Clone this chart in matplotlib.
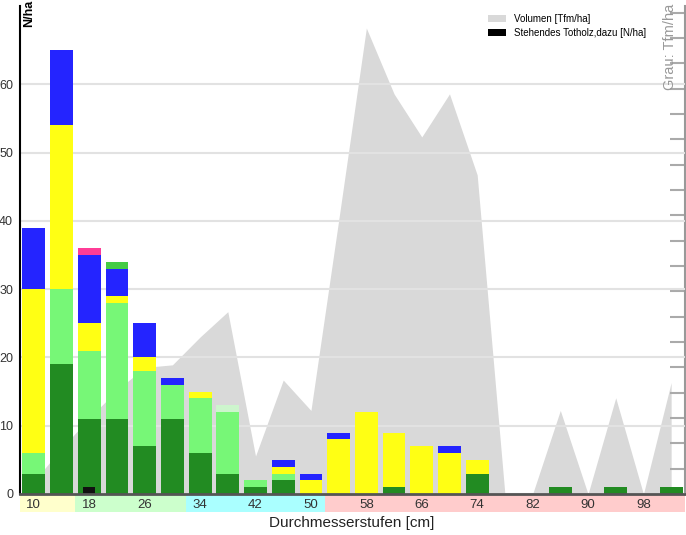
import numpy as np
import matplotlib
matplotlib.use("Agg")
import matplotlib.pyplot as plt
from matplotlib.patches import Patch, Rectangle
import matplotlib.transforms as mtransforms

plt.rcParams['font.family'] = ['Liberation Sans', 'DejaVu Sans']

# Durchmesserstufen (cm), 4 cm steps
stufen = np.arange(10, 106, 4)

# stems per ha, stacked layers (bottom -> top)
dunkelgruen = [3, 19, 11, 11, 7, 11, 6, 3, 1, 2, 0, 0, 0, 1, 0, 0, 3, 0, 0, 1, 0, 1, 0, 1]
hellgruen   = [3, 11, 10, 17, 11, 5, 8, 9, 1, 1, 0, 0, 0, 0, 0, 0, 0, 0, 0, 0, 0, 0, 0, 0]
blassgruen  = [0, 0, 0, 0, 0, 0, 0, 1, 0, 0, 0, 0, 0, 0, 0, 0, 0, 0, 0, 0, 0, 0, 0, 0]
gelb        = [24, 24, 4, 1, 2, 0, 1, 0, 0, 1, 2, 8, 12, 8, 7, 6, 2, 0, 0, 0, 0, 0, 0, 0]
blau        = [9, 11, 10, 4, 5, 1, 0, 0, 0, 1, 1, 1, 0, 0, 0, 1, 0, 0, 0, 0, 0, 0, 0, 0]
rosa        = [0, 0, 1, 0, 0, 0, 0, 0, 0, 0, 0, 0, 0, 0, 0, 0, 0, 0, 0, 0, 0, 0, 0, 0]
mittelgruen = [0, 0, 0, 1, 0, 0, 0, 0, 0, 0, 0, 0, 0, 0, 0, 0, 0, 0, 0, 0, 0, 0, 0, 0]
totholz     = [0, 0, 1, 0, 0, 0, 0, 0, 0, 0, 0, 0, 0, 0, 0, 0, 0, 0, 0, 0, 0, 0, 0, 0]

# volume (Tfm/ha), right axis
volumen = [5, 18, 30, 41, 50, 51, 62, 72, 15, 45, 33, 108, 184, 158, 141, 158, 126,
           0, 0, 33, 0, 38, 0, 44]

# category strip under the axis
band_grenzen = [8, 16, 32, 52, 104]
band_farben = ['#ffffcc', '#ccffcc', '#aaffff', '#ffcccc']
xtick_werte = list(range(10, 100, 8))

schichten = [dunkelgruen, hellgruen, blassgruen, gelb, blau, rosa, mittelgruen]
farben = ['#228b22', '#77f777', '#cdf5cd', '#ffff14', '#2424ff', '#ff3c96', '#44cc44']

fig = plt.figure(figsize=(6.86, 5.35), dpi=100)
ax = fig.add_axes([20 / 686, 41 / 535, 665 / 686, 488 / 535])
ax2 = ax.twinx()
ax.set_zorder(ax2.get_zorder() + 1)
ax.patch.set_visible(False)

# grey volume area on the right axis
ax2.fill_between(stufen, volumen, 0, color='#d9d9d9', lw=0)
ax2.set_ylim(0, 192.7)
ax2.set_yticks(np.arange(0, 191, 10))
ax2.tick_params(axis='y', direction='in', length=11, width=1.5, color='#aaaaaa',
                labelright=False)
for s in ['left', 'top', 'bottom']:
    ax2.spines[s].set_visible(False)
ax2.spines['right'].set_color('#999999')
ax2.spines['right'].set_linewidth(1.5)

# stacked bars
unten = np.zeros(len(stufen))
for werte, farbe in zip(schichten, farben):
    ax.bar(stufen, werte, bottom=unten, width=3.3, color=farbe, lw=0)
    unten += np.array(werte)
ax.bar(stufen, totholz, width=1.75, color='#111111', lw=0)

ax.set_xlim(8, 104)
ax.set_ylim(0, 71.5)
ax.set_yticks(range(0, 61, 10))
ax.yaxis.grid(True, color='#e2e2e2', lw=1.5)
ax.set_axisbelow(True)
ax.tick_params(axis='y', length=0, pad=5, labelsize=9, labelcolor='#333333')
ax.set_xticks(xtick_werte)
ax.tick_params(axis='x', length=0, pad=3.5, labelsize=9.5, labelcolor='#333333')
ax.spines['top'].set_visible(False)
ax.spines['right'].set_visible(False)
ax.spines['left'].set_color('black')
ax.spines['left'].set_linewidth(1.5)
ax.spines['bottom'].set_color('#555555')
ax.spines['bottom'].set_linewidth(2)

trans = mtransforms.blended_transform_factory(ax.transData, ax.transAxes)
for i, farbe in enumerate(band_farben):
    ax.add_patch(Rectangle((band_grenzen[i], -0.037), band_grenzen[i + 1] - band_grenzen[i],
                           0.035, transform=trans, color=farbe, lw=0, clip_on=False,
                           zorder=0))

fig.text(352 / 686, 1 - 523 / 535, 'Durchmesserstufen [cm]', ha='center', va='center',
         fontsize=11, color='#222222')
fig.text(29 / 686, 1.0, 'N/ha', rotation=90, ha='center', va='top',
         fontsize=9, fontweight='bold')
fig.text(670 / 686, 1 - 4 / 535, 'Grau: Tfm/ha', rotation=90, ha='center', va='top',
         fontsize=10.5, color='#999999')

handles = [Patch(color='#d9d9d9', lw=0), Patch(color='black', lw=0)]
fig.legend(handles, ['Volumen [Tfm/ha]', 'Stehendes Totholz,dazu [N/ha]'],
           loc='upper left', bbox_to_anchor=(483 / 686, 1 - 9 / 535), frameon=False,
           fontsize=7, borderpad=0, handlelength=1.9, handleheight=0.7,
           handletextpad=0.8, labelspacing=0.45)

fig.savefig('out.png', dpi=100)
